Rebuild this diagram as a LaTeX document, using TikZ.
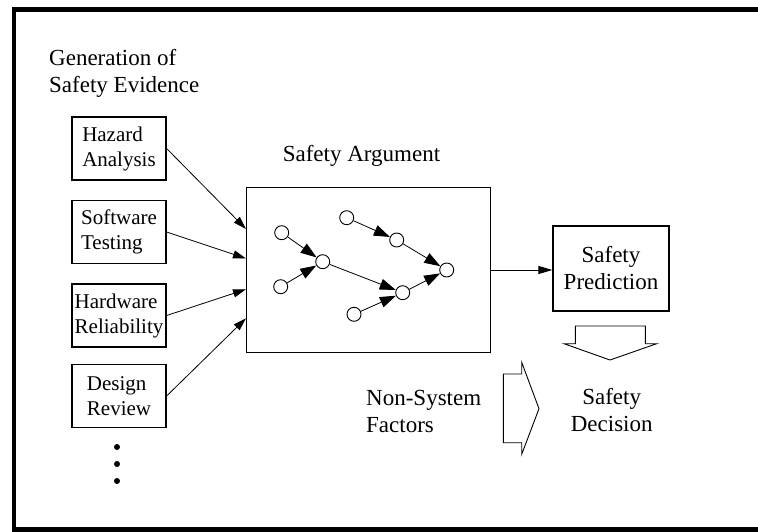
\documentclass[tikz,border=0pt]{standalone}
\usepackage{fontspec}
\setmainfont{Liberation Serif}
\usetikzlibrary{arrows.meta,calc}
\newcommand{\bigtxt}{\fontsize{23}{27}\selectfont}
\newcommand{\boxtxt}{\fontsize{21}{25}\selectfont}
\begin{document}
\begin{tikzpicture}[x=1pt,y=-1pt,
  evbox/.style={draw,line width=1.3pt,minimum width=94pt,minimum height=63pt,align=left,inner sep=0pt,font=\boxtxt},
  dot/.style={circle,draw,line width=0.9pt,fill=white,minimum size=14pt,inner sep=0pt},
  inarrow/.style={line width=0.8pt,-{Triangle[length=13pt,width=8pt]}},
  garrow/.style={line width=0.8pt,-{Triangle[length=16pt,width=11pt]}},
  lbl/.style={inner sep=0pt,font=\bigtxt}]
\useasboundingbox (0,0) rectangle (758,532);
% frame
\draw[line width=4.5pt] (758,9.5) -- (14,9.5) -- (14,529.5) -- (758,529.5);
% heading
\node[lbl,anchor=base west] (gen) at (49,66) {\begin{tabular}[t]{@{}l@{}}Generation of\\Safety Evidence\end{tabular}};
% evidence boxes
\node[evbox] (haz) at (119,148.5) {Hazard\\Analysis};
\node[evbox] (sw) at (119,232) {Software\\Testing};
\node[evbox] (hw) at (119,315.5) {Hardware\\Reliability};
\node[evbox] (dr) at (119,396) {Design\\Review};
% dots
\fill (117,447) circle (3pt);
\fill (117,464) circle (3pt);
\fill (117,481) circle (3pt);
% argument box
\node[lbl,anchor=base] (argl) at (361.5,161.7) {Safety Argument};
\node[draw,line width=1pt,minimum width=244pt,minimum height=164pt,inner sep=0pt] (arg) at (368,270) {};
\coordinate (e1) at (246,229);
\coordinate (e2) at (246,258.5);
\coordinate (e3) at (246,289.3);
\coordinate (e4) at (246,318.3);
\draw[inarrow] (haz.east) -- (e1);
\draw[inarrow] (sw.east) -- (e2);
\draw[inarrow] (hw.east) -- (e3);
\draw[inarrow] (dr.east) -- (e4);
% graph inside
\node[dot] (c1) at (281.7,232.7) {};
\node[dot] (c2) at (280.7,286.7) {};
\node[dot] (c3) at (322.7,261.7) {};
\node[dot] (c4) at (346.7,217.7) {};
\node[dot] (c5) at (396.7,240) {};
\node[dot] (c6) at (446.7,270) {};
\node[dot] (c7) at (402.7,292.7) {};
\node[dot] (c8) at (354,314.3) {};
\draw[garrow] (c1) -- (c3);
\draw[garrow] (c2) -- (c3);
\draw[garrow] (c3) -- (c7);
\draw[garrow] (c8) -- (c7);
\draw[garrow] (c7) -- (c6);
\draw[garrow] (c4) -- (c5);
\draw[garrow] (c5) -- (c6);
% prediction
\node[draw,line width=1.3pt,minimum width=116pt,minimum height=85pt,align=center,inner sep=0pt,font=\bigtxt] (pred) at (611,268.5) {Safety\\Prediction};
\draw[line width=0.8pt,-{Triangle[length=14pt,width=8pt]}] (arg.east) -- (arg.east -| pred.west);
% block arrows
\draw[line width=0.9pt] (575.3,326) -- (645.3,326) -- (645.3,343.7) -- (656.7,343.7) -- (610,360) -- (564,343.7) -- (575.3,343.7) -- cycle;
\draw[line width=0.9pt] (503.3,374) -- (521.7,374) -- (521.7,362.3) -- (539,408.7) -- (521.7,454.3) -- (521.7,442.7) -- (503.3,442.7) -- cycle;
% labels
\node[lbl,anchor=base west] (nsf) at (366,405) {\begin{tabular}[t]{@{}l@{}}Non-System\\Factors\end{tabular}};
\node[lbl,anchor=base] (dec) at (611.7,404) {\begin{tabular}[t]{@{}c@{}}Safety\\Decision\end{tabular}};
\end{tikzpicture}
\end{document}
